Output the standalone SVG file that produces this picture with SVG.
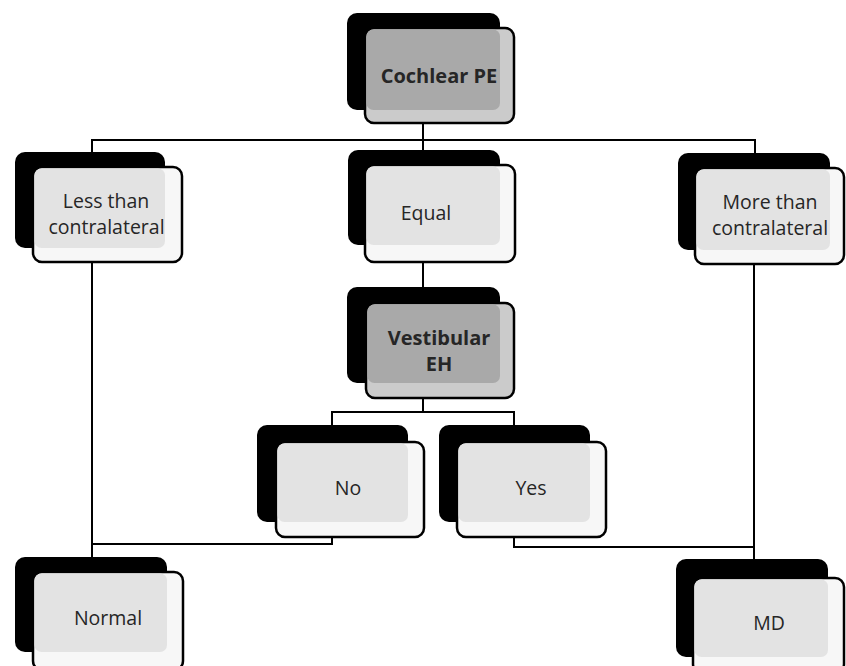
<svg xmlns="http://www.w3.org/2000/svg" width="846" height="666" viewBox="0 0 846 666">
<style>
.back{fill:#000}
.frame{stroke:#000;stroke-width:2.5}
.light .frame{fill:#f7f7f7}
.light .inner{fill:#e3e3e3}
.dark .frame{fill:#cbcbcb}
.dark .inner{fill:#a9a9a9}
.conn{fill:none;stroke:#000;stroke-width:2}
text{font-family:"Open Sans","Noto Sans","Liberation Sans",sans-serif;font-size:19.5px;fill:#262626;text-anchor:middle}
.dark text{font-weight:bold;font-size:20px}
</style>
<rect width="846" height="666" fill="#fff"/>
<g id="connectors">
<path class="conn" d="M423,123 V140 M92,152 V140 H755 V153 M423,140 V150"/>
<path class="conn" d="M423,262 V287"/>
<path class="conn" d="M423,398 V412 M332,425 V412 H514 V425"/>
<path class="conn" d="M92,262 V557 M332,537 V544 H92"/>
<path class="conn" d="M754,265 V559 M514,537 V547 H754"/>
</g>
<g id="cochlear" class="dark">
<rect class="back" x="347" y="13" width="153" height="97" rx="10"/>
<rect class="frame" x="365" y="28" width="149" height="95" rx="9"/>
<rect class="inner" x="366.5" y="29.5" width="133.5" height="80.5" rx="7"/>
<text x="439" y="83">Cochlear PE</text>
</g>
<g id="less" class="light">
<rect class="back" x="15" y="152" width="150" height="96" rx="10"/>
<rect class="frame" x="33" y="167" width="149" height="95" rx="9"/>
<rect class="inner" x="34.5" y="168.5" width="130.5" height="79.5" rx="7"/>
<text x="106" y="208">Less than</text>
<text x="106.5" y="234">contralateral</text>
</g>
<g id="equal" class="light">
<rect class="back" x="348" y="150" width="152" height="95" rx="10"/>
<rect class="frame" x="365" y="165" width="150" height="97" rx="9"/>
<rect class="inner" x="366.5" y="166.5" width="133.5" height="78.5" rx="7"/>
<text x="426" y="220">Equal</text>
</g>
<g id="more" class="light">
<rect class="back" x="678" y="153" width="152" height="97" rx="10"/>
<rect class="frame" x="695" y="168" width="149" height="96" rx="9"/>
<rect class="inner" x="696.5" y="169.5" width="133.5" height="80.5" rx="7"/>
<text x="770" y="209">More than</text>
<text x="770" y="235">contralateral</text>
</g>
<g id="vestibular" class="dark">
<rect class="back" x="347" y="287" width="153" height="96" rx="10"/>
<rect class="frame" x="366" y="303" width="148" height="95" rx="9"/>
<rect class="inner" x="367.5" y="304.5" width="132.5" height="78.5" rx="7"/>
<text x="439" y="345">Vestibular</text>
<text x="439" y="371">EH</text>
</g>
<g id="no" class="light">
<rect class="back" x="257" y="425" width="151" height="97" rx="10"/>
<rect class="frame" x="276" y="442" width="148" height="95" rx="9"/>
<rect class="inner" x="277.5" y="443.5" width="130.5" height="78.5" rx="7"/>
<text x="348" y="495">No</text>
</g>
<g id="yes" class="light">
<rect class="back" x="439" y="425" width="151" height="97" rx="10"/>
<rect class="frame" x="457" y="442" width="149" height="95" rx="9"/>
<rect class="inner" x="458.5" y="443.5" width="131.5" height="78.5" rx="7"/>
<text x="531" y="495">Yes</text>
</g>
<g id="normal" class="light">
<rect class="back" x="15" y="557" width="152" height="95" rx="10"/>
<rect class="frame" x="33" y="572" width="150" height="98" rx="9"/>
<rect class="inner" x="34.5" y="573.5" width="132.5" height="78.5" rx="7"/>
<text x="108" y="625">Normal</text>
</g>
<g id="md" class="light">
<rect class="back" x="676" y="559" width="152" height="98" rx="10"/>
<rect class="frame" x="693" y="578" width="151" height="95" rx="9"/>
<rect class="inner" x="694.5" y="579.5" width="133.5" height="77.5" rx="7"/>
<text x="769" y="630">MD</text>
</g>
</svg>
